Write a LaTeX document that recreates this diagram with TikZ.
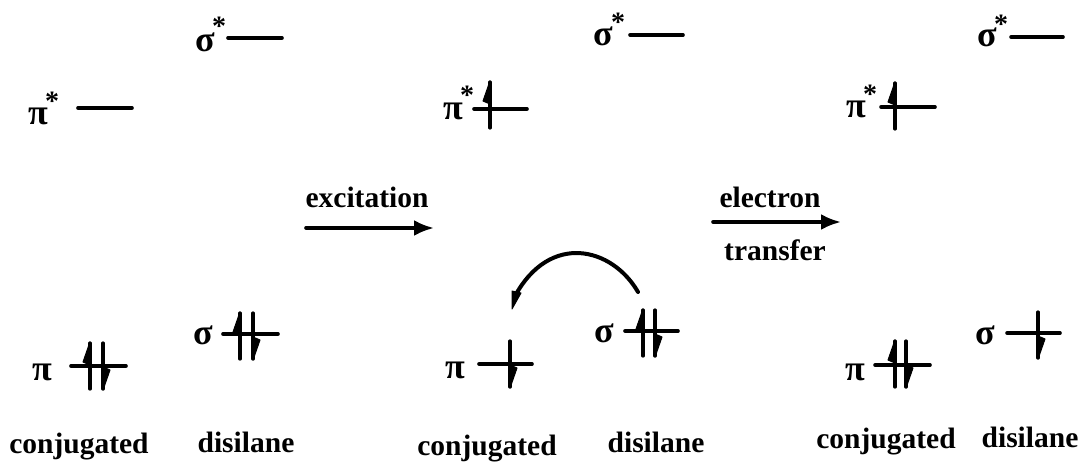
\documentclass[tikz,border=0pt]{standalone}
\usepackage{fontspec}
\setmainfont{Liberation Serif}
\usetikzlibrary{arrows.meta}
\tikzset{
  lab/.style={inner sep=0pt,anchor=base,font=\fontsize{29.5}{30}\selectfont\bfseries},
  sym/.style={inner sep=0pt,font=\fontsize{36}{36}\selectfont\bfseries},
  starn/.style={inner sep=0pt,anchor=north,font=\fontsize{28}{28}\selectfont\bfseries},
  lev/.style={line width=3.6pt,line cap=round},
  stick/.style={line width=3.2pt,line cap=round},
  wedge/.style={fill=black,draw=black,line width=1pt,line join=round},
  rxn/.style={line width=3.6pt,line cap=round,-{Latex[length=20pt,width=16pt]}},
  curved/.style={line width=4pt,line cap=round}
}
% level: name, x left, x right, y
\newcommand{\lvl}[4]{\coordinate (#1a) at (#2,#4);\coordinate (#1b) at (#3,#4);\draw[lev] (#1a) -- (#1b);}
% electrons: x, level y
\newcommand{\up}[2]{\draw[stick] (#1,#2-23) -- (#1,#2+23);\fill[wedge] (#1,#2-24) -- (#1-7,#2-4) -- (#1,#2-1) -- cycle;}
\newcommand{\down}[2]{\draw[stick] (#1,#2-23) -- (#1,#2+23);\fill[wedge] (#1,#2+24) -- (#1+7,#2+4) -- (#1,#2+1) -- cycle;}
\begin{document}
\begin{tikzpicture}[x=1pt,y=-1pt]
\useasboundingbox (0,0) rectangle (1083,463);
% column 1
\node[sym] (s1) at (205,42) {σ};
\node[starn] (s1x) at (219,17) {*};
\lvl{ss1}{228}{282}{38}
\node[sym] (p1) at (38,116) {π};
\node[starn] (p1x) at (52,92) {*};
\lvl{ps1}{78}{132}{108}
\node[sym] (p2) at (42,372) {π};
\lvl{pi1}{71}{126}{366}
\up{90}{366}\down{103}{366}
\node[sym] (s2) at (203,335) {σ};
\lvl{si1}{223}{278}{334}
\up{240}{336}\down{253}{336}
\node[lab] (c1) at (79,453) {conjugated};
\node[lab] (d1) at (246,452) {disilane};
% column 2
\node[sym] (s3) at (603,36) {σ};
\node[starn] (s3x) at (618,13) {*};
\lvl{ss2}{630}{683}{35}
\node[sym] (p3) at (453,111) {π};
\node[starn] (p3x) at (467,86) {*};
\lvl{ps2}{474}{527}{109}
\up{490}{105}
\node[sym] (p4) at (455,370) {π};
\lvl{pi2}{479}{532}{364}
\down{510}{364}
\node[sym] (s4) at (604,333) {σ};
\lvl{si2}{625}{678}{331}
\up{643}{333}\down{655}{333}
\node[lab] (c2) at (487,455) {conjugated};
\node[lab] (d2) at (656,452) {disilane};
% column 3
\node[sym] (s5) at (987,37) {σ};
\node[starn] (s5x) at (1001,15) {*};
\lvl{ss3}{1011}{1063}{37}
\node[sym] (p5) at (856,109) {π};
\node[starn] (p5x) at (870,85) {*};
\lvl{ps3}{881}{935}{107}
\up{895}{106}
\node[sym] (p6) at (855,372) {π};
\lvl{pi3}{875}{930}{365}
\up{895}{364}\down{906}{364}
\node[sym] (s6) at (985,335) {σ};
\lvl{si3}{1007}{1060}{333}
\down{1038}{335}
\node[lab] (c3) at (886,448) {conjugated};
\node[lab] (d3) at (1030,447) {disilane};
% reaction arrows
\coordinate (ea) at (306,228);\coordinate (eb) at (434,228);
\draw[rxn] (ea) -- (eb);
\node[lab] (ex) at (367,207) {excitation};
\coordinate (ta) at (713,222);\coordinate (tb) at (841,222);
\draw[rxn] (ta) -- (tb);
\node[lab] (el) at (770,207) {electron};
\node[lab] (tr) at (775,260) {transfer};
% curved arrow
\coordinate (ca) at (638,292);\coordinate (cb) at (515,296);
\draw[curved] (ca) .. controls (612,247) and (550,232) .. (cb);
\coordinate (ct) at (512,309);
\fill[wedge] (ct) -- (512,291) -- (521,293) -- cycle;
\end{tikzpicture}
\end{document}
